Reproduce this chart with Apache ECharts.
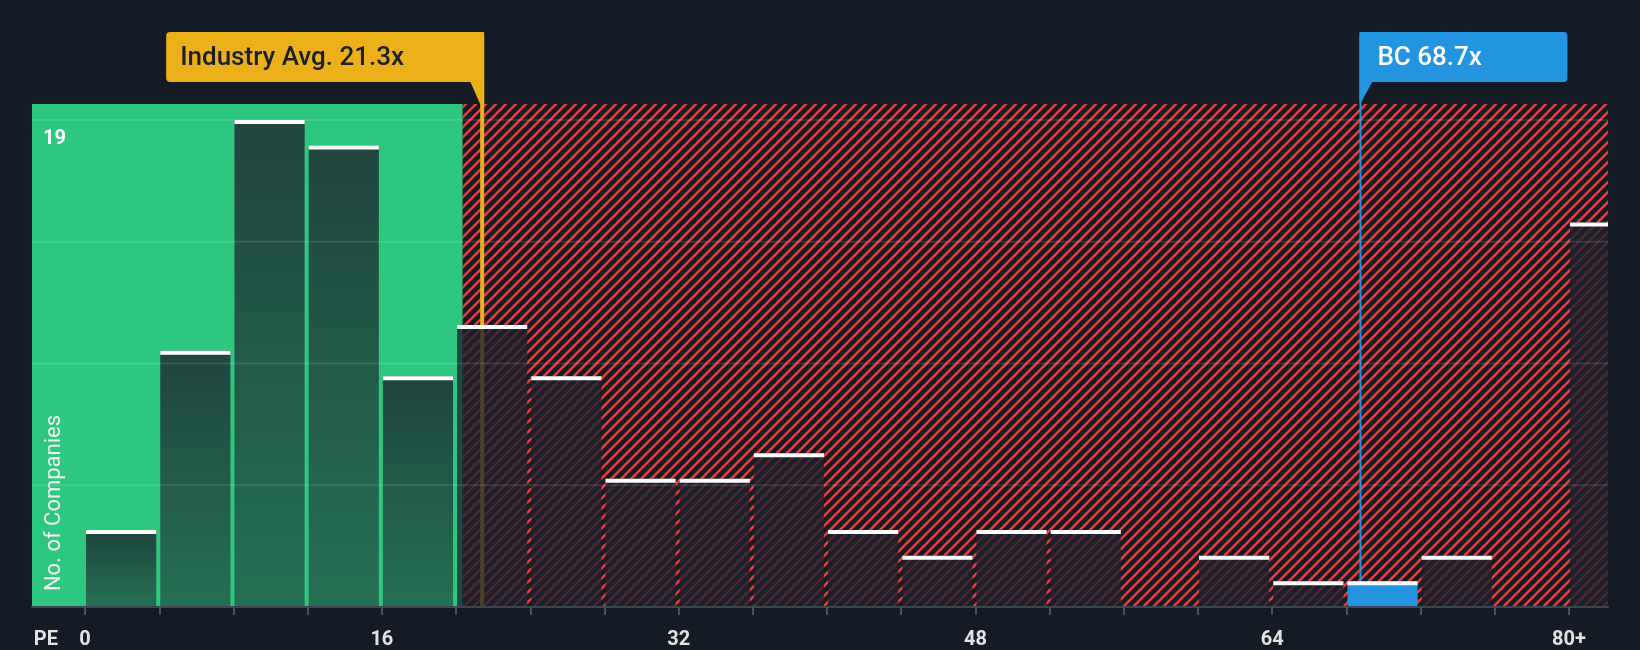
<!DOCTYPE html>
<html>
<head>
<meta charset="utf-8">
<script src="https://cdn.jsdelivr.net/npm/echarts@6/dist/echarts.min.js"></script>
<style>
html,body{margin:0;padding:0;background:#151b24;}
#chart{width:1640px;height:650px;}
</style>
</head>
<body>
<div id="chart"></div>
<script>
// ---- data ----
const binStarts = [0, 4, 8, 12, 16, 20, 24, 28, 32, 36, 40, 44, 48, 52, 56, 60, 64, 68, 72, 76, 80];
const binCounts = [3, 10, 19, 18, 9, 11, 9, 5, 5, 6, 3, 2, 3, 3, 0, 2, 1, 1, 2, 0, 15];
const binWidth = 4;
const xTickValues = [0, 4, 8, 12, 16, 20, 24, 28, 32, 36, 40, 44, 48, 52, 56, 60, 64, 68, 72, 76, 80];
const xLabelValues = [0, 16, 32, 48, 64, 80];
const xLabelTexts = ['0', '16', '32', '48', '64', '80+'];
const yGridValues = [4.75, 9.5, 14.25, 19];
const yLabelValues = [19];
const industryAvg = 21.3;
const industryLabel = 'Industry Avg. 21.3x';
const companyPE = 68.7;
const companyLabel = 'BC 68.7x';
const fairRangeEnd = 20.36;
const xMin = -2.86, xMax = 82.1, yMax = 19.62;

// ---- styles ----
const BG = '#151b24';
const GREEN = '#2ec77f';
const RED = '#e0403f';
const YELLOW = '#ebb01a';
const BLUE = '#2394e0';

function makeHatch() {
  const s = 10;
  const c = document.createElement('canvas');
  c.width = s; c.height = s;
  const g = c.getContext('2d');
  g.fillStyle = BG; g.fillRect(0, 0, s, s);
  g.strokeStyle = RED; g.lineWidth = 2.6;
  g.beginPath();
  g.moveTo(-2, s + 2); g.lineTo(s + 2, -2);
  g.moveTo(-2, 2); g.lineTo(2, -2);
  g.moveTo(s - 2, s + 2); g.lineTo(s + 2, s - 2);
  g.stroke();
  return c;
}
const hatchCanvas = makeHatch();

const regionData = [[xMin, fairRangeEnd, 0], [fairRangeEnd, xMax, 1]];
const barData = binStarts.map((s, i) => [s, i === binStarts.length - 1 ? xMax : s + binWidth, binCounts[i], i]);
const markerData = [[industryAvg, 0], [companyPE, 1]];

const chart = echarts.init(document.getElementById('chart'));

const option = {
  backgroundColor: BG,
  animation: false,
  grid: { left: 32, right: 32, top: 104, bottom: 42 },
  xAxis: {
    type: 'value', min: xMin, max: xMax, z: 10,
    splitLine: { show: false },
    axisLine: { show: true, lineStyle: { color: '#3e4450', width: 2 } },
    axisTick: { show: true, customValues: xTickValues, length: 8, lineStyle: { color: '#4a505a', width: 2 } },
    axisLabel: {
      customValues: xLabelValues,
      formatter: v => xLabelTexts[xLabelValues.indexOf(v)] ?? '',
      margin: 23, color: '#e2e2e2', fontSize: 20, fontWeight: 'bold', fontFamily: 'Roboto',
      verticalAlign: 'top'
    },
    name: 'PE', nameLocation: 'start', nameGap: -26,
    nameTextStyle: { color: '#e2e2e2', fontSize: 20, fontWeight: 'bold', fontFamily: 'Roboto', align: 'right', verticalAlign: 'top', padding: [23, 0, 0, 0] }
  },
  yAxis: {
    type: 'value', min: 0, max: yMax, z: 10,
    splitLine: { show: false },
    axisLine: { show: false },
    axisTick: { show: false },
    axisLabel: {
      inside: true, customValues: yLabelValues, margin: 11,
      color: '#ffffff', fontSize: 20, fontWeight: 'bold', fontFamily: 'Roboto',
      verticalAlign: 'top', padding: [9, 0, 0, 0]
    }
  },
  graphic: [{
    type: 'text', x: 54, y: 503, rotation: Math.PI / 2, z: 100,
    style: { text: 'No. of Companies', fill: '#f2f2f2', fontSize: 22, fontFamily: 'Roboto', align: 'center', verticalAlign: 'middle' }
  }],
  series: [
    {
      type: 'custom', name: 'regions', z: 1, silent: true,
      data: regionData,
      renderItem: (params, api) => {
        const cs = params.coordSys;
        const x0 = api.coord([api.value(0), 0])[0];
        const x1 = api.coord([api.value(1), 0])[0];
        const kind = api.value(2);
        return {
          type: 'rect',
          shape: { x: x0, y: cs.y, width: x1 - x0, height: cs.height },
          style: { fill: kind === 0 ? GREEN : { image: hatchCanvas, repeat: 'repeat' } }
        };
      }
    },
    {
      type: 'custom', name: 'markerLines', z: 2, silent: true,
      data: markerData,
      renderItem: (params, api) => {
        const cs = params.coordSys;
        const idx = api.value(1);
        const p = api.coord([api.value(0), 0]);
        const top = cs.y - 72;
        if (idx === 0) {
          return { type: 'rect', shape: { x: p[0], y: top, width: 4, height: p[1] - top }, style: { fill: YELLOW } };
        }
        return { type: 'rect', shape: { x: p[0], y: top, width: 2, height: p[1] - top }, style: { fill: BLUE } };
      }
    },
    {
      type: 'custom', name: 'bars', z: 3, silent: true,
      data: barData,
      renderItem: (params, api) => {
        const start = api.value(0), end = api.value(1), count = api.value(2), i = api.value(3);
        if (!count) return null;
        const p0 = api.coord([start, count]);
        const p1 = api.coord([end, 0]);
        const isLast = i === binStarts.length - 1;
        const x = p0[0] + 1;
        const w = isLast ? p1[0] - x : p1[0] - p0[0] - 4;
        let fill;
        if (companyPE >= start && companyPE < end) {
          fill = BLUE;
        } else if (end <= fairRangeEnd) {
          fill = { type: 'linear', x: 0, y: 0, x2: 0, y2: 1, colorStops: [
            { offset: 0, color: 'rgba(28,32,44,0.78)' }, { offset: 1, color: 'rgba(28,32,44,0.52)' }] };
        } else {
          fill = 'rgba(28,32,44,0.78)';
        }
        return {
          type: 'group',
          children: [
            { type: 'rect', shape: { x: x, y: p0[1], width: w, height: p1[1] - p0[1] }, style: { fill: fill } },
            { type: 'rect', shape: { x: x, y: p0[1], width: w, height: 4 }, style: { fill: '#ffffff' } }
          ]
        };
      }
    },
    {
      type: 'custom', name: 'gridLines', z: 4, silent: true,
      data: yGridValues.map(v => [0, v]),
      renderItem: (params, api) => {
        const cs = params.coordSys;
        const y = api.coord([0, api.value(1)])[1];
        return { type: 'rect', shape: { x: cs.x, y: y - 1, width: cs.width, height: 2 }, style: { fill: 'rgba(255,255,255,0.11)' } };
      }
    },
    {
      type: 'custom', name: 'callouts', z: 5, silent: true,
      data: markerData,
      renderItem: (params, api) => {
        const cs = params.coordSys;
        const idx = api.value(1);
        const p = api.coord([api.value(0), 0]);
        const h = 50, top = cs.y - 72, bottom = top + h;
        if (idx === 0) {
          const right = p[0] + 4, w = 318, left = right - w;
          return { type: 'group', children: [
            { type: 'rect', shape: { x: left, y: top, width: w, height: h, r: [4, 4, 0, 4] }, style: { fill: YELLOW } },
            { type: 'polygon', shape: { points: [[right - 14, bottom - 0.5], [right, bottom - 0.5], [right, cs.y], [right - 4, cs.y]] }, style: { fill: YELLOW } },
            { type: 'text', style: { x: left + 14, y: top + h / 2 + 1, text: industryLabel, fill: '#1b1f28', fontSize: 26, fontWeight: 500, fontFamily: 'Roboto', align: 'left', verticalAlign: 'middle' } }
          ] };
        }
        const left = p[0], w = 208;
        return { type: 'group', children: [
          { type: 'rect', shape: { x: left, y: top, width: w, height: h, r: [4, 4, 4, 0] }, style: { fill: BLUE } },
          { type: 'polygon', shape: { points: [[left, bottom - 0.5], [left + 13, bottom - 0.5], [left + 2, cs.y - 2], [left, cs.y - 2]] }, style: { fill: BLUE } },
          { type: 'text', style: { x: left + 18, y: top + h / 2 + 1, text: companyLabel, fill: '#ffffff', fontSize: 26, fontWeight: 500, fontFamily: 'Roboto', align: 'left', verticalAlign: 'middle' } }
        ] };
      }
    }
  ]
};
chart.setOption(option);
</script>
</body>
</html>
